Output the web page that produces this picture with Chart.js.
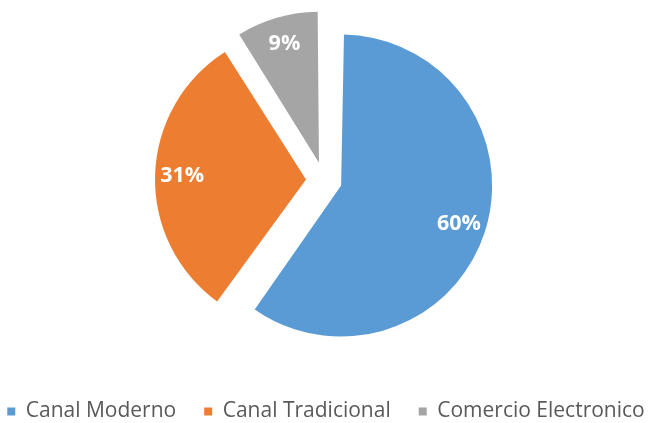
<!DOCTYPE html>
<html>
<head>
<meta charset="utf-8">
<script src="https://cdn.jsdelivr.net/npm/chart.js@4/dist/chart.umd.min.js"></script>
<style>
  html, body { margin: 0; padding: 0; background: #fff; overflow: hidden; }
  #wrap { width: 648px; height: 423px; overflow: hidden; }
  #chartCanales { display: block; margin-top: -13px; }
</style>
</head>
<body>
<div id="wrap"><canvas id="chartCanales" width="648" height="436"></canvas></div>
<script>
// datos
const categorias = ['Canal Moderno', 'Canal Tradicional', 'Comercio Electronico'];
const participacion = [60, 31, 9];
const colores = ['#5B9BD5', '#ED7D31', '#A5A5A5'];

// porciones separadas ~18px (Chart.js traslada offset/4 y además agranda el radio)
const separacion = 18;
const radioPie = 151;

function fixArco(circ) {
  return 1 - Math.sin(Math.min(Math.PI, circ || 0));
}

// compensa el agrandamiento del radio que aplica Chart.js al usar offset
const radioUniforme = {
  id: 'radioUniforme',
  afterDatasetUpdate(chart, args) {
    args.meta.data.forEach(arc => {
      arc.outerRadius = radioPie - separacion * fixArco(arc.circumference);
    });
  }
};

// etiquetas blancas dentro de cada porción
const etiquetasPorcion = {
  id: 'etiquetasPorcion',
  afterDatasetsDraw(chart) {
    const ctx = chart.ctx;
    const meta = chart.getDatasetMeta(0);
    ctx.save();
    ctx.font = 'bold 21.5px "Open Sans"';
    ctx.fillStyle = '#ffffff';
    ctx.textAlign = 'center';
    ctx.textBaseline = 'middle';
    meta.data.forEach((arc, i) => {
      const mid = (arc.startAngle + arc.endAngle) / 2;
      const r = separacion + radioPie * 0.82;
      ctx.fillText(participacion[i] + '%', arc.x + Math.cos(mid) * r, arc.y + Math.sin(mid) * r);
    });
    ctx.restore();
  }
};

const ctx = document.getElementById('chartCanales');
new Chart(ctx, {
  type: 'pie',
  data: {
    labels: categorias,
    datasets: [{
      data: participacion,
      backgroundColor: colores,
      borderWidth: 0,
      offset: separacion * 4,
      hoverOffset: 0,
      radius: radioPie
    }]
  },
  options: {
    responsive: false,
    animation: false,
    layout: {
      padding: { left: -26, right: -30, top: 0, bottom: 0 }
    },
    plugins: {
      tooltip: { enabled: false },
      legend: {
        display: true,
        position: 'bottom',
        maxHeight: 50,
        labels: {
          boxWidth: 8,
          boxHeight: 8,
          padding: 28,
          color: '#595959',
          font: { family: '"Open Sans"', size: 21 }
        }
      }
    }
  },
  plugins: [radioUniforme, etiquetasPorcion]
});
</script>
</body>
</html>
